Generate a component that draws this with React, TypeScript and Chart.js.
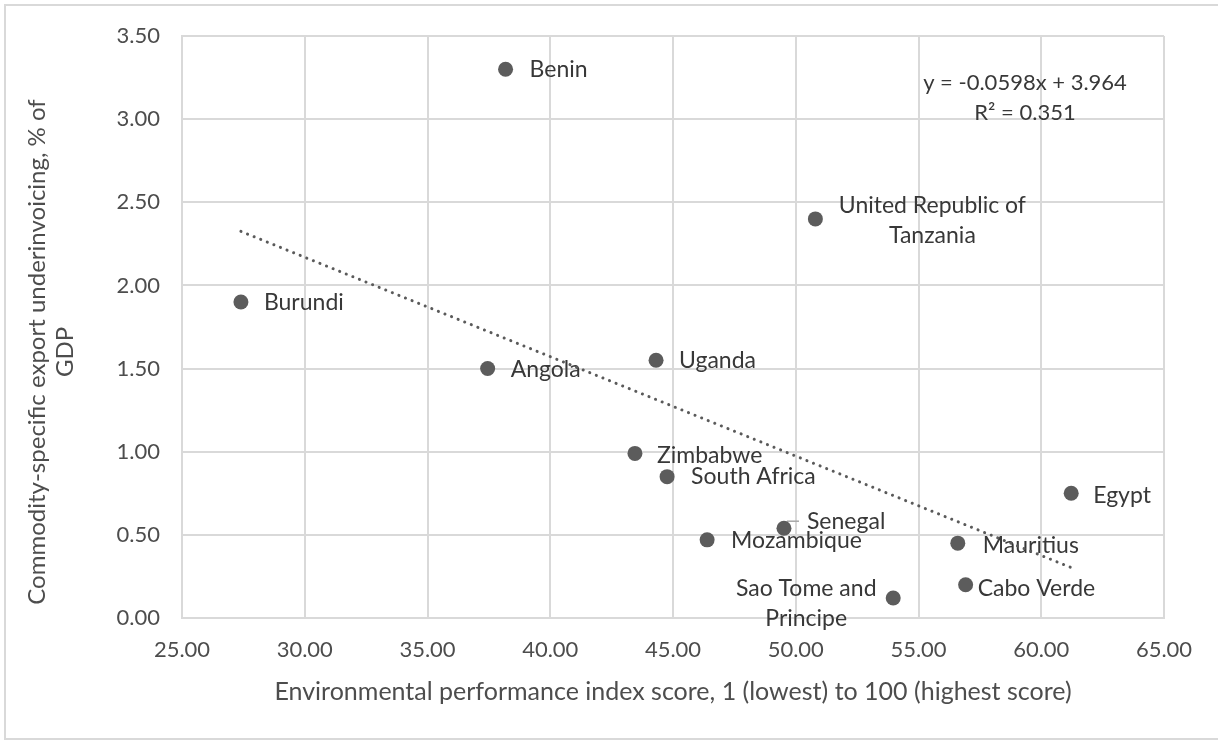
import React, { useEffect, useRef } from 'react';
import { Chart, registerables } from 'chart.js';

Chart.register(...registerables);

// ---------- data ----------
const COUNTRIES = [
  'Benin',
  'Burundi',
  'Angola',
  'Uganda',
  'United Republic of Tanzania',
  'Zimbabwe',
  'South Africa',
  'Egypt',
  'Senegal',
  'Mozambique',
  'Mauritius',
  'Cabo Verde',
  'Sao Tome and Principe',
];
const EPI_SCORE = [38.18, 27.4, 37.45, 44.31, 50.8, 43.45, 44.76, 61.22, 49.52, 46.39, 56.6, 56.92, 53.97];
const UNDERINVOICING = [3.3, 1.9, 1.5, 1.55, 2.4, 0.99, 0.85, 0.75, 0.54, 0.47, 0.45, 0.2, 0.12];

// dotted linear trendline end points (as drawn in the reference)
const TREND_X = [27.4, 61.22];
const TREND_Y = [2.325, 0.303];

const EQUATION_LINES = ['y = -0.0598x + 3.964', 'R² = 0.351'];
const X_TITLE = 'Environmental performance index score, 1 (lowest) to 100 (highest score)';
const Y_TITLE_LINES = ['Commodity-specific export underinvoicing, % of', 'GDP'];

const X_MIN = 25;
const X_MAX = 65;
const X_STEP = 5;
const Y_MIN = 0;
const Y_MAX = 3.5;
const Y_STEP = 0.5;

// ---------- label placement (pixel offsets from each point) ----------
type LabelLayout = { dx: number; dy: number[]; lines?: string[]; align?: CanvasTextAlign; leader?: boolean };
const LABEL_LAYOUT: Record<string, LabelLayout> = {
  Benin: { dx: 24, dy: [0] },
  Burundi: { dx: 23, dy: [1] },
  Angola: { dx: 23, dy: [1] },
  Uganda: { dx: 23, dy: [0] },
  'United Republic of Tanzania': { dx: 117, dy: [-13, 17], lines: ['United Republic of', 'Tanzania'], align: 'center' },
  Zimbabwe: { dx: 22, dy: [2] },
  'South Africa': { dx: 24, dy: [0] },
  Egypt: { dx: 22, dy: [2] },
  Senegal: { dx: 23, dy: [-7], leader: true },
  Mozambique: { dx: 24, dy: [1] },
  Mauritius: { dx: 25, dy: [2] },
  'Cabo Verde': { dx: 12, dy: [4] },
  'Sao Tome and Principe': { dx: -87, dy: [-9, 21], lines: ['Sao Tome and', 'Principe'], align: 'center' },
};

const FONT = 'Lato';
const TICK_COLOR = '#4d4d4d';
const LABEL_COLOR = '#383838';
const GRID_COLOR = '#d9d9d9';

const annotatePlugin = {
  id: 'annotate',
  beforeDatasetsDraw(chart: any) {
    const ctx: CanvasRenderingContext2D = chart.ctx;
    const xs = chart.scales.x;
    const ys = chart.scales.y;
    ctx.save();
    ctx.font = `23px ${FONT}`;
    ctx.fillStyle = LABEL_COLOR;
    ctx.textBaseline = 'middle';
    COUNTRIES.forEach((name, i) => {
      const px = xs.getPixelForValue(EPI_SCORE[i]);
      const py = ys.getPixelForValue(UNDERINVOICING[i]);
      const lay = LABEL_LAYOUT[name];
      const lines = lay.lines ?? [name];
      ctx.textAlign = lay.align ?? 'left';
      lines.forEach((ln, j) => ctx.fillText(ln, px + lay.dx, py + lay.dy[j]));
      if (lay.leader) {
        ctx.strokeStyle = '#a6a6a6';
        ctx.lineWidth = 1.5;
        ctx.beginPath();
        ctx.moveTo(px + 3, py - 7);
        ctx.lineTo(px + 15, py - 7);
        ctx.stroke();
      }
    });
    ctx.restore();
  },
  afterDraw(chart: any) {
    const ctx: CanvasRenderingContext2D = chart.ctx;
    const area = chart.chartArea;
    ctx.save();
    // regression equation
    ctx.font = `22px ${FONT}`;
    ctx.fillStyle = LABEL_COLOR;
    ctx.textAlign = 'center';
    ctx.textBaseline = 'middle';
    ctx.fillText(EQUATION_LINES[0], area.right - 139, area.top + 47);
    ctx.fillText(EQUATION_LINES[1], area.right - 139, area.top + 77);
    // y axis title (two lines, rotated)
    ctx.font = `24px ${FONT}`;
    ctx.fillStyle = TICK_COLOR;
    ctx.translate(51, 352);
    ctx.rotate(-Math.PI / 2);
    ctx.fillText(Y_TITLE_LINES[0], 0, -14);
    ctx.fillText(Y_TITLE_LINES[1], 0, 14);
    ctx.restore();
  },
};

export default function App() {
  const canvasRef = useRef<HTMLCanvasElement | null>(null);

  useEffect(() => {
    const canvas = canvasRef.current;
    if (!canvas) return;
    const points = EPI_SCORE.map((x, i) => ({ x, y: UNDERINVOICING[i] }));
    const trend = TREND_X.map((x, i) => ({ x, y: TREND_Y[i] }));

    const chart = new Chart(canvas, {
      type: 'scatter',
      data: {
        datasets: [
          {
            type: 'scatter',
            label: 'Countries',
            data: points,
            pointRadius: 7.5,
            pointHoverRadius: 7.5,
            backgroundColor: '#5c5c5c',
            borderWidth: 0,
          },
          {
            type: 'line',
            label: 'Trend',
            data: trend,
            borderColor: '#5a5a5a',
            borderWidth: 3,
            borderDash: [0.1, 7],
            borderCapStyle: 'round',
            pointRadius: 0,
            fill: false,
            showLine: true,
          },
        ],
      } as any,
      plugins: [annotatePlugin],
      options: {
        responsive: false,
        animation: false,
        devicePixelRatio: 1,
        layout: { padding: { left: 0, top: 36, right: 54, bottom: 0 } },
        plugins: {
          legend: { display: false },
          tooltip: { enabled: false },
          title: { display: false },
        },
        scales: {
          x: {
            type: 'linear',
            min: X_MIN,
            max: X_MAX,
            afterFit: (scale: any) => {
              scale.height = 122;
            },
            ticks: {
              stepSize: X_STEP,
              padding: 19,
              color: TICK_COLOR,
              font: { family: FONT, size: 22 },
              callback: (v: any) => Number(v).toFixed(2),
            },
            grid: { color: GRID_COLOR, lineWidth: 2, drawTicks: false },
            border: { display: true, color: GRID_COLOR, width: 2 },
            title: {
              display: true,
              text: X_TITLE,
              color: TICK_COLOR,
              font: { family: FONT, size: 25 },
              padding: { top: 0, bottom: 33 },
            },
          },
          y: {
            type: 'linear',
            min: Y_MIN,
            max: Y_MAX,
            afterFit: (scale: any) => {
              scale.width = 182;
            },
            ticks: {
              stepSize: Y_STEP,
              padding: 22,
              color: TICK_COLOR,
              font: { family: FONT, size: 22 },
              callback: (v: any) => Number(v).toFixed(2),
            },
            grid: { color: GRID_COLOR, lineWidth: 2, drawTicks: false },
            border: { display: true, color: GRID_COLOR, width: 2 },
          },
        },
      } as any,
    });
    return () => chart.destroy();
  }, []);

  return (
    <div
      style={{
        position: 'fixed',
        left: 0,
        top: 0,
        width: 1218,
        height: 740,
        overflow: 'hidden',
        background: '#ffffff',
      }}
    >
      <div
        style={{
          position: 'absolute',
          left: 4,
          top: 4,
          width: 1300,
          height: 736,
          boxSizing: 'border-box',
          border: '2px solid #d9d9d9',
        }}
      />
      <canvas ref={canvasRef} width={1218} height={740} style={{ position: 'absolute', left: 0, top: 0, display: 'block' }} />
    </div>
  );
}
